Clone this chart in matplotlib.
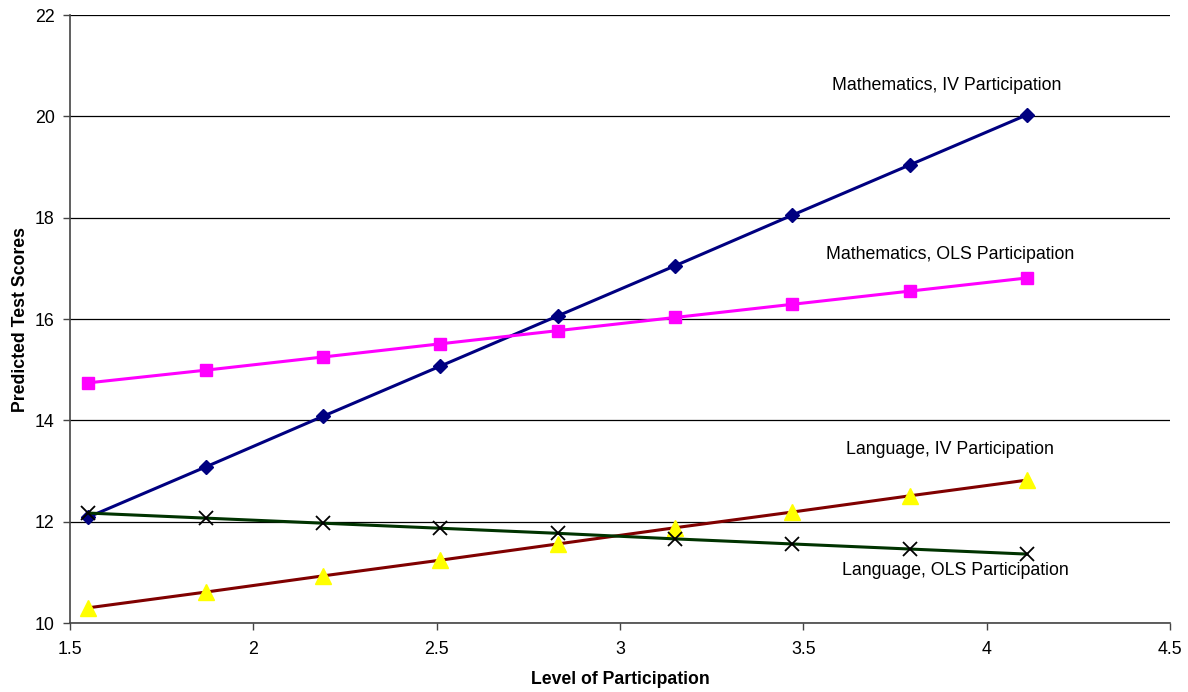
import matplotlib
matplotlib.use('Agg')
import matplotlib.pyplot as plt

plt.rcParams['font.family'] = ['Liberation Sans', 'DejaVu Sans']

# participation levels
levels = [1.55, 1.87, 2.19, 2.51, 2.83, 3.15, 3.47, 3.79, 4.11]

math_iv = [12.09, 13.08, 14.08, 15.07, 16.06, 17.05, 18.05, 19.04, 20.03]
math_ols = [14.74, 14.99, 15.25, 15.51, 15.77, 16.03, 16.29, 16.55, 16.81]
lang_iv = [10.30, 10.61, 10.93, 11.24, 11.56, 11.88, 12.19, 12.51, 12.82]
lang_ols = [12.17, 12.07, 11.97, 11.87, 11.77, 11.66, 11.56, 11.46, 11.36]

fig = plt.figure(figsize=(11.88, 6.92), dpi=100)
ax = fig.add_axes([70 / 1188, 1 - 623 / 692, 1100 / 1188, 608 / 692])

ax.plot(levels, math_iv, color='#000080', lw=2.2, marker='D', ms=7.5,
        mfc='#000080', mec='#000080', zorder=4)
ax.plot(levels, math_ols, color='#ff00ff', lw=2.2, marker='s', ms=8.5,
        mfc='#ff00ff', mec='#ff00ff', zorder=4)
ax.plot(levels, lang_iv, color='#800000', lw=2.2, marker='^', ms=11,
        mfc='#ffff00', mec='#ffff00', zorder=4)
ax.plot(levels, lang_ols, color='#003300', lw=2.2, marker='x', ms=10,
        mec='black', mew=1.3, zorder=5)

ax.text(3.89, 20.6, 'Mathematics, IV Participation', ha='center', va='center', fontsize=12.8)
ax.text(3.90, 17.28, 'Mathematics, OLS Participation', ha='center', va='center', fontsize=12.8)
ax.text(3.90, 13.43, 'Language, IV Participation', ha='center', va='center', fontsize=12.8)
ax.text(3.915, 11.03, 'Language, OLS Participation', ha='center', va='center', fontsize=12.8)

ax.set_xlim(1.5, 4.5)
ax.set_ylim(10, 22)
ax.set_xticks([1.5, 2, 2.5, 3, 3.5, 4, 4.5])
ax.set_xticklabels(['1.5', '2', '2.5', '3', '3.5', '4', '4.5'])
ax.set_yticks(range(10, 23, 2))
ax.tick_params(labelsize=12.8, direction='out', length=5, width=1, color='#444444')
ax.tick_params(axis='x', pad=8)
ax.tick_params(axis='y', pad=6)

ax.yaxis.grid(True, color='black', lw=0.9)
ax.set_axisbelow(True)
ax.spines['top'].set_visible(False)
ax.spines['right'].set_visible(False)
for s in ['left', 'bottom']:
    ax.spines[s].set_color('#444444')
    ax.spines[s].set_linewidth(1.2)

ax.set_xlabel('Level of Participation', fontsize=12.7, fontweight='bold', labelpad=9)
ax.set_ylabel('Predicted Test Scores', fontsize=12.7, fontweight='bold', labelpad=4)

fig.savefig('out.png', dpi=100)
plt.close()
